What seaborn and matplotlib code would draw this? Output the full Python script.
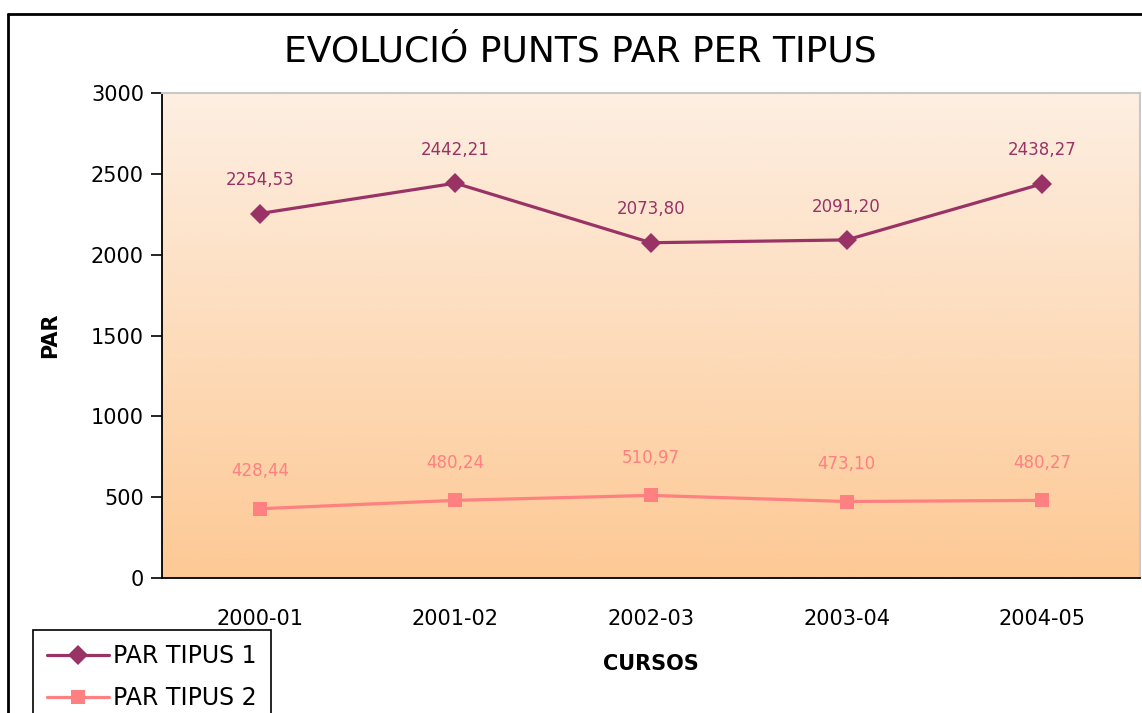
import numpy as np
import pandas as pd
import matplotlib
matplotlib.use('Agg')
import matplotlib.pyplot as plt
import seaborn as sns
from matplotlib.lines import Line2D
from matplotlib.colors import LinearSegmentedColormap

# ================================================================
# data

cursos = ['2000-01', '2001-02', '2002-03', '2003-04', '2004-05']
par_tipus_1 = [2254.53, 2442.21, 2073.80, 2091.20, 2438.27]
par_tipus_2 = [428.44, 480.24, 510.97, 473.10, 480.27]
series_names = ['PAR TIPUS 1', 'PAR TIPUS 2']
y_ticks = [0, 500, 1000, 1500, 2000, 2500, 3000]

colors = {'PAR TIPUS 1': '#993366', 'PAR TIPUS 2': '#FF8080'}
markers = {'PAR TIPUS 1': 'D', 'PAR TIPUS 2': 's'}

df = pd.DataFrame({
    'curs': cursos * 2,
    'par': par_tipus_1 + par_tipus_2,
    'serie': [series_names[0]] * len(cursos) + [series_names[1]] * len(cursos),
})

# ================================================================

sns.set_style('white')
plt.rcParams['font.family'] = ['DejaVu Sans']
plt.rcParams['text.color'] = 'black'

fig = plt.figure(figsize=(11.42, 7.13), dpi=100)
ax = fig.add_axes([162 / 1142, 1 - 578 / 713, (1140 - 162) / 1142, (578 - 93) / 713])

# gradient background of the plot area
grad = LinearSegmentedColormap.from_list('peach', ['#FDEFE2', '#FDC995'])
ax.imshow(np.linspace(0, 1, 256).reshape(-1, 1), cmap=grad, aspect='auto',
          extent=[0, 1, 0, 1], transform=ax.transAxes, zorder=0)

sns.lineplot(data=df, x='curs', y='par', hue='serie', style='serie',
             palette=colors, markers=markers, dashes=False, markersize=10,
             markeredgewidth=0, linewidth=2.3, ax=ax, zorder=3)

# data labels
for name, vals, off in [(series_names[0], par_tipus_1, 24), (series_names[1], par_tipus_2, 27)]:
    for i, v in enumerate(vals):
        ax.annotate(f'{v:.2f}'.replace('.', ','), (i, v), xytext=(0, off),
                    textcoords='offset points', ha='center', va='center',
                    fontsize=12, color=colors[name], zorder=4)

ax.set_xlim(-0.5, len(cursos) - 0.5)
ax.set_ylim(0, 3000)
ax.set_yticks(y_ticks)
ax.set_yticklabels([str(t) for t in y_ticks], fontsize=15, color='black')
ax.set_xticks(range(len(cursos)))
ax.set_xticklabels(cursos, fontsize=15, color='black')
ax.set_xticks(np.arange(-0.5, len(cursos), 1.0), minor=True)
ax.tick_params(axis='x', which='major', length=0, pad=22)
ax.tick_params(axis='x', which='minor', length=7, width=1.2, color='black', direction='out')
ax.tick_params(axis='y', length=8, width=1.2, color='black', direction='out', left=True, pad=5)

for s in ['left', 'bottom']:
    ax.spines[s].set_color('black')
    ax.spines[s].set_linewidth(1.3)
for s in ['top', 'right']:
    ax.spines[s].set_color('#C8C8C8')
    ax.spines[s].set_linewidth(1.5)

ax.set_xlabel('CURSOS', fontsize=15, fontweight='bold', labelpad=18, color='black')
ax.set_ylabel('PAR', fontsize=15, fontweight='bold', labelpad=22, color='black')

fig.text(580 / 1142, 1 - 52 / 713, 'EVOLUCIÓ PUNTS PAR PER TIPUS', fontsize=26,
         ha='center', va='center', color='black')

# legend at the bottom left, partly cut off like the original
handles, labels = ax.get_legend_handles_labels()
ax.legend_.remove()
leg = fig.legend(handles, labels, loc='upper left', bbox_to_anchor=(33 / 1142, 1 - 630 / 713),
                 fontsize=17, frameon=True, fancybox=False, framealpha=1, handlelength=2.6,
                 handletextpad=0.2, borderpad=0.6, labelspacing=0.75, borderaxespad=0)
leg.get_frame().set_edgecolor('black')
leg.get_frame().set_linewidth(1.2)

# outer chart frame (only top and left visible)
fig.add_artist(Line2D([8 / 1142, 8 / 1142], [0, 1 - 14 / 713], color='black', linewidth=2))
fig.add_artist(Line2D([8 / 1142, 1], [1 - 14 / 713, 1 - 14 / 713], color='black', linewidth=2))

fig.savefig('out.png', dpi=100)
plt.close(fig)
